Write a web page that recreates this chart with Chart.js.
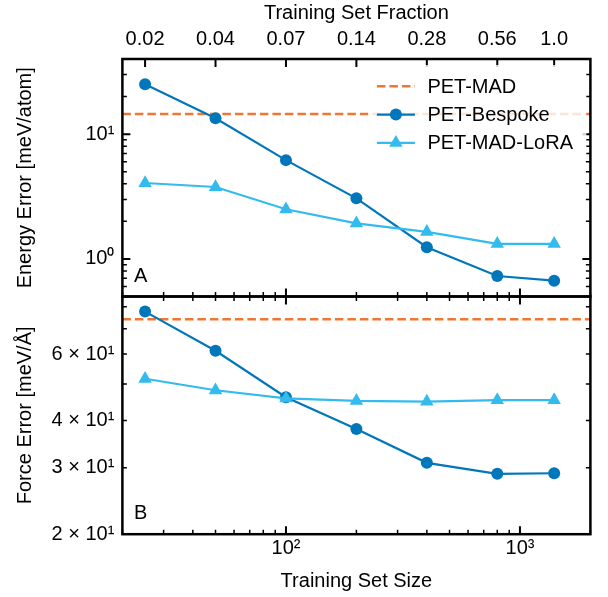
<!DOCTYPE html>
<html>
<head>
<meta charset="utf-8">
<script src="https://cdn.jsdelivr.net/npm/chart.js@4.4.1/dist/chart.umd.min.js"></script>
<style>
  html, body { margin: 0; padding: 0; background: #fff; }
  #wrap { position: relative; width: 608px; height: 597px; }
  #wrap canvas { position: absolute; left: 0; top: 0; }
</style>
</head>
<body>
<div id="wrap">
  <canvas id="energy-chart" width="608" height="597"></canvas>
  <canvas id="force-chart" width="608" height="597"></canvas>
</div>
<script>
// training set sizes and the fraction labels shown on the top axis
const trainSizes = [25, 50, 100, 200, 400, 800, 1400];
const fractionLabels = ['0.02', '0.04', '0.07', '0.14', '0.28', '0.56', '1.0'];

// energy error [meV/atom]
const energyBespoke = [25.1, 13.4, 6.19, 3.06, 1.24, 0.73, 0.67];
const energyLora = [4.06, 3.77, 2.50, 1.93, 1.65, 1.32, 1.32];
const energyPetMad = 14.5;

// force error [meV/Å]
const forceBespoke = [77.7, 61.2, 46.1, 38.0, 30.9, 28.9, 29.0];
const forceLora = [51.6, 48.1, 45.8, 45.1, 44.9, 45.3, 45.3];
const forcePetMad = 74.2;

const seriesNames = ['PET-MAD', 'PET-Bespoke', 'PET-MAD-LoRA'];

// axis ranges and ticks
const sizeRange = [20, 2000];
const energyRange = [0.5, 40];
const forceRange = [20, 85.2];

const sizeTicks = [20, 30, 40, 50, 60, 70, 80, 90, 100, 200, 300, 400, 500, 600, 700, 800, 900, 1000, 2000];
const sizeTickLabels = { 100: '10²', 1000: '10³' };
const energyTicks = [0.5, 0.6, 0.7, 0.8, 0.9, 1, 2, 3, 4, 5, 6, 7, 8, 9, 10, 20, 30, 40];
const energyTickLabels = { 1: '10⁰', 10: '10¹' };
const forceTicks = [20, 30, 40, 50, 60, 70, 80];
const forceTickLabels = { 20: '2 × 10¹', 30: '3 × 10¹', 40: '4 × 10¹', 60: '6 × 10¹' };

const ORANGE = '#EE7733';
const BLUE = '#0077BB';
const CYAN = '#33BBEE';

Chart.defaults.font.family = "'Liberation Sans', Arial, Helvetica, sans-serif";
Chart.defaults.font.size = 20;
Chart.defaults.color = '#000';

const PLOT_LEFT = 122.4;
const PLOT_RIGHT_PAD = 608 - 590.4;
const SPLIT_Y = 296.5;

const refLine = (label, value) => ({
    label,
    data: sizeRange.map(x => ({ x, y: value })),
    borderColor: ORANGE, borderWidth: 2.5, borderDash: [8.5, 4],
    pointRadius: 0, order: 2
});

const series = (label, values, color, style, radius, order) => ({
    label,
    data: trainSizes.map((x, i) => ({ x, y: values[i] })),
    borderColor: color, backgroundColor: color, borderWidth: 2.2,
    pointStyle: style, pointRadius: radius, pointBorderWidth: 0,
    pointBackgroundColor: color, order
});

const logAxis = (range, values, labelFor, extra) => Object.assign({
    type: 'logarithmic', min: range[0], max: range[1],
    grid: { display: false, drawTicks: false },
    border: { display: false },
    afterBuildTicks: scale => { scale.ticks = values.map(v => ({ value: v })); },
    ticks: { autoSkip: false, maxRotation: 0, minRotation: 0, callback: (v, i) => labelFor(v, i) }
}, extra);

// inward tick marks on every side plus the frame and panel letter
const frameTicks = (marks, letter, letterY) => ({
    id: 'frameTicks',
    afterDatasetsDraw(chart) {
        const { ctx, chartArea: a } = chart;
        ctx.save();
        ctx.strokeStyle = '#000';
        marks.forEach(({ axis, values, major, sides }) => {
            const s = chart.scales[axis];
            values.forEach(v => {
                const isMajor = major(v);
                const len = isMajor ? 8 : 4.5;
                ctx.lineWidth = isMajor ? 2 : 1.5;
                const p = s.getPixelForValue(v);
                ctx.beginPath();
                sides.forEach(side => {
                    if (side === 'top') { ctx.moveTo(p, a.top); ctx.lineTo(p, a.top + len); }
                    if (side === 'bottom') { ctx.moveTo(p, a.bottom); ctx.lineTo(p, a.bottom - len); }
                    if (side === 'left') { ctx.moveTo(a.left, p); ctx.lineTo(a.left + len, p); }
                    if (side === 'right') { ctx.moveTo(a.right, p); ctx.lineTo(a.right - len, p); }
                });
                ctx.stroke();
            });
        });
        ctx.lineWidth = 2.5;
        ctx.strokeRect(a.left, a.top, a.right - a.left, a.bottom - a.top);
        ctx.fillStyle = '#000';
        ctx.font = "20px 'Liberation Sans', Arial, sans-serif";
        ctx.textBaseline = 'alphabetic';
        ctx.textAlign = 'left';
        ctx.fillText(letter, a.left + 11.5, letterY);
        ctx.restore();
    }
});

const insetLegend = {
    id: 'insetLegend',
    afterDatasetsDraw(chart) {
        const { ctx, chartArea: a } = chart;
        ctx.save();
        ctx.fillStyle = 'rgba(255,255,255,0.8)';
        ctx.fillRect(a.right - 222, a.top + 6, 218, 93);
        chart.data.datasets.forEach((ds, i) => {
            const y = a.top + 27.3 + i * 28.3;
            const x0 = a.right - 213.5, x1 = a.right - 175.5, xm = (x0 + x1) / 2;
            ctx.strokeStyle = ds.borderColor;
            ctx.lineWidth = ds.borderWidth;
            ctx.setLineDash(ds.borderDash || []);
            ctx.beginPath(); ctx.moveTo(x0, y); ctx.lineTo(x1, y); ctx.stroke();
            ctx.setLineDash([]);
            if (ds.pointRadius > 0) {
                ctx.fillStyle = ds.pointBackgroundColor;
                Chart.helpers.drawPoint(ctx, { pointStyle: ds.pointStyle, radius: ds.pointRadius, borderWidth: 0, rotation: 0 }, xm, y);
            }
            ctx.fillStyle = '#000';
            ctx.font = "20px 'Liberation Sans', Arial, sans-serif";
            ctx.textBaseline = 'middle';
            ctx.textAlign = 'left';
            ctx.fillText(ds.label, a.right - 163, y + 1);
        });
        ctx.restore();
    }
};

const sizeMajor = v => sizeTickLabels[v] !== undefined;

new Chart(document.getElementById('energy-chart'), {
    type: 'line',
    data: { datasets: [
        refLine(seriesNames[0], energyPetMad),
        series(seriesNames[1], energyBespoke, BLUE, 'circle', 6, 1),
        series(seriesNames[2], energyLora, CYAN, 'triangle', 7.8, 0)
    ]},
    options: {
        responsive: false, animation: false, events: [],
        layout: { padding: { left: 0, right: PLOT_RIGHT_PAD, top: 0, bottom: 597 - SPLIT_Y } },
        plugins: { legend: { display: false }, tooltip: { enabled: false } },
        scales: {
            x: logAxis(sizeRange, sizeTicks, () => '', { position: 'bottom', display: false }),
            x2: logAxis(sizeRange, trainSizes, (v, i) => fractionLabels[i], {
                position: 'top',
                afterFit: s => { s.height = 59; },
                ticks: { autoSkip: false, maxRotation: 0, minRotation: 0, padding: 8, callback: (v, i) => fractionLabels[i] },
                title: { display: true, text: 'Training Set Fraction', padding: { top: 1, bottom: 0 } }
            }),
            y: logAxis(energyRange, energyTicks, v => energyTickLabels[v] || '', {
                position: 'left',
                afterFit: s => { s.width = PLOT_LEFT; },
                ticks: { autoSkip: false, padding: 8, callback: v => energyTickLabels[v] || '' },
                title: { display: true, text: 'Energy Error [meV/atom]', padding: { top: 13.5, bottom: 0 } }
            })
        }
    },
    plugins: [frameTicks([
        { axis: 'x2', values: trainSizes, major: () => true, sides: ['top'] },
        { axis: 'x', values: sizeTicks, major: sizeMajor, sides: ['bottom'] },
        { axis: 'y', values: energyTicks, major: v => energyTickLabels[v] !== undefined, sides: ['left', 'right'] }
    ], 'A', 282), insetLegend]
});

new Chart(document.getElementById('force-chart'), {
    type: 'line',
    data: { datasets: [
        refLine(seriesNames[0], forcePetMad),
        series(seriesNames[1], forceBespoke, BLUE, 'circle', 6, 1),
        series(seriesNames[2], forceLora, CYAN, 'triangle', 7.8, 0)
    ]},
    options: {
        responsive: false, animation: false, events: [],
        layout: { padding: { left: 0, right: PLOT_RIGHT_PAD, top: SPLIT_Y, bottom: 0 } },
        plugins: { legend: { display: false }, tooltip: { enabled: false } },
        scales: {
            x: logAxis(sizeRange, sizeTicks, v => sizeTickLabels[v] || '', {
                position: 'bottom',
                afterFit: s => { s.height = 597 - 534.2; },
                ticks: { autoSkip: false, maxRotation: 0, minRotation: 0, padding: 2, callback: v => sizeTickLabels[v] || '' },
                title: { display: true, text: 'Training Set Size', padding: { top: 0, bottom: 4 } }
            }),
            y: logAxis(forceRange, forceTicks, v => forceTickLabels[v] || '', {
                position: 'left',
                afterFit: s => { s.width = PLOT_LEFT; },
                ticks: { autoSkip: false, padding: 8, callback: v => forceTickLabels[v] || '' },
                title: { display: true, text: 'Force Error [meV/Å]', padding: { top: 13.5, bottom: 0 } }
            })
        }
    },
    plugins: [frameTicks([
        { axis: 'x', values: sizeTicks, major: sizeMajor, sides: ['top', 'bottom'] },
        { axis: 'y', values: forceTicks, major: () => false, sides: ['left', 'right'] }
    ], 'B', 519)]
});
</script>
</body>
</html>
